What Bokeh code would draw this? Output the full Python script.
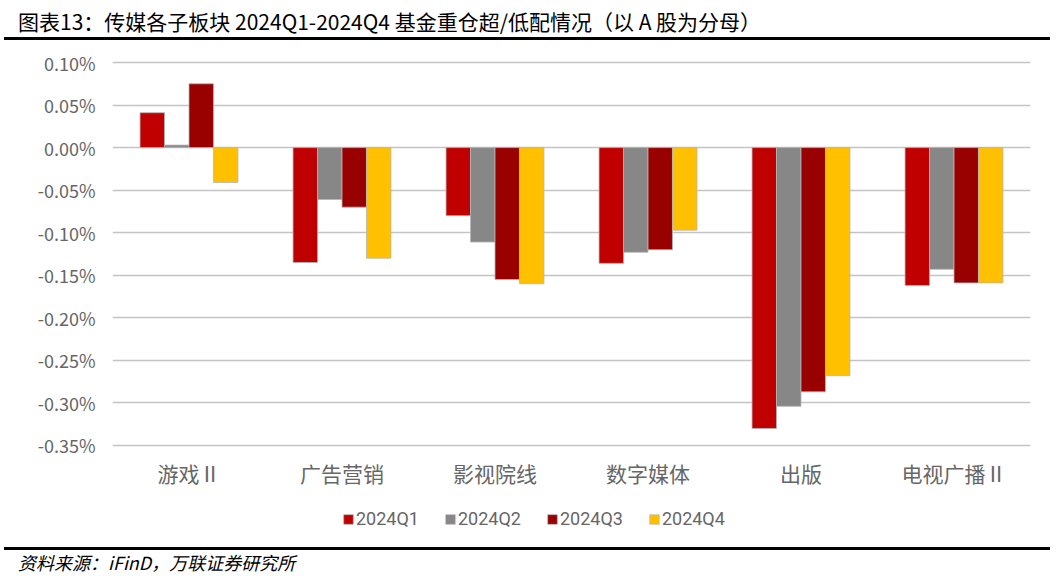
from bokeh.plotting import figure
from bokeh.models import (ColumnDataSource, FactorRange, Range1d, Legend, LegendItem,
                          FixedTicker, Div)
from bokeh.layouts import column
from bokeh.transform import dodge
from bokeh.embed import file_html
from bokeh.resources import INLINE

categories = ["游戏Ⅱ", "广告营销", "影视院线", "数字媒体", "出版", "电视广播Ⅱ"]
series_names = ["2024Q1", "2024Q2", "2024Q3", "2024Q4"]
q1 = [0.041, -0.135, -0.080, -0.136, -0.330, -0.162]
q2 = [0.003, -0.061, -0.111, -0.123, -0.304, -0.143]
q3 = [0.075, -0.070, -0.155, -0.120, -0.287, -0.159]
q4 = [-0.041, -0.130, -0.160, -0.097, -0.268, -0.159]
colors = ["#C00000", "#878787", "#990000", "#FFC000"]
y_ticks = [0.10, 0.05, 0.00, -0.05, -0.10, -0.15, -0.20, -0.25, -0.30, -0.35]
y_tick_labels = ["0.10%", "0.05%", "0.00%", "-0.05%", "-0.10%", "-0.15%",
                 "-0.20%", "-0.25%", "-0.30%", "-0.35%"]
title_text = "图表13：传媒各子板块 2024Q1-2024Q4 基金重仓超/低配情况（以 A 股为分母）"
source_text = "资料来源：iFinD，万联证券研究所"

FONT = "Noto Sans CJK SC"
GRAY = "#666666"

src = ColumnDataSource(dict(cat=categories, q1=q1, q2=q2, q3=q3, q4=q4))

# ---- main chart ----
p = figure(width=1056, height=452, output_backend="svg", toolbar_location=None,
           x_range=FactorRange(*categories), y_range=Range1d(-0.3606, 0.1094),
           min_border_left=112, min_border_right=26, min_border_top=14,
           min_border_bottom=38, outline_line_color=None, margin=(0, 0, 0, 0))
p.background_fill_color = "white"
p.border_fill_color = "white"

offsets = [-0.24, -0.08, 0.08, 0.24]
fields = ["q1", "q2", "q3", "q4"]
for f, off, c in zip(fields, offsets, colors):
    p.vbar(x=dodge("cat", off, range=p.x_range), top=f, bottom=0, width=0.16,
           source=src, fill_color=c, line_color="#b5b5b5", line_width=0.8)

p.yaxis.ticker = FixedTicker(ticks=y_ticks)
p.yaxis.major_label_overrides = {t: l for t, l in zip(y_ticks, y_tick_labels)}
p.yaxis.axis_line_color = None
p.yaxis.major_tick_line_color = None
p.yaxis.minor_tick_line_color = None
p.yaxis.major_tick_out = 0
p.yaxis.major_tick_in = 0
p.yaxis.major_label_standoff = 17
p.yaxis.major_label_text_font = FONT
p.yaxis.major_label_text_font_size = "18px"
p.yaxis.major_label_text_color = GRAY

p.xaxis.axis_line_color = None
p.xaxis.major_tick_line_color = None
p.xaxis.minor_tick_line_color = None
p.xaxis.major_tick_out = 0
p.xaxis.major_tick_in = 0
p.xaxis.major_label_standoff = 3
p.xaxis.major_label_text_font = FONT
p.xaxis.major_label_text_font_size = "21px"
p.xaxis.major_label_text_color = GRAY

p.xgrid.grid_line_color = None
p.ygrid.grid_line_color = "#c4c4c4"
p.ygrid.grid_line_width = 1.5

# ---- legend strip (frame aligned with main chart frame: left edge at 112px) ----
lg = figure(width=1056, height=55, output_backend="svg", toolbar_location=None,
            x_range=Range1d(0, 1), y_range=Range1d(0, 1),
            x_axis_location=None, y_axis_location=None,
            min_border=0, outline_line_color=None, margin=(0, 0, 0, 0))
lg.grid.grid_line_color = None
lg.background_fill_color = "white"
lg.border_fill_color = "white"
lg_renderers = []
for c in colors:
    lg_renderers.append(lg.vbar(x=[-10], top=[-10], width=0.1, fill_color=c,
                                line_color="#b5b5b5", line_width=0.6))
legend = Legend(items=[LegendItem(label=n, renderers=[r]) for n, r in zip(series_names, lg_renderers)],
                orientation="horizontal", location=(230, 18),
                label_text_font="Roboto", label_text_font_size="18px",
                label_text_color=GRAY, glyph_width=12, glyph_height=12,
                spacing=25, padding=0, margin=0, label_standoff=2,
                background_fill_alpha=0, border_line_color=None)
lg.add_layout(legend, "center")

# ---- title / source ----
title_html = (
    '<div style="position:relative;width:1056px;height:40px;background:white;">'
    '<div style="position:absolute;left:18px;top:7px;white-space:nowrap;'
    "font-family:'Noto Sans CJK SC';font-size:21px;line-height:28px;color:#000;\">"
    + title_text +
    '</div>'
    '<div style="position:absolute;left:4px;top:37px;width:1046px;height:3px;background:#000;"></div>'
    '</div>'
)
footer_html = (
    '<div style="position:relative;width:1056px;height:29px;background:white;">'
    '<div style="position:absolute;left:4px;top:0px;width:1046px;height:3px;background:#000;"></div>'
    '<div style="position:absolute;left:18px;top:3px;white-space:nowrap;'
    "font-family:'Noto Sans CJK SC';font-size:18px;font-style:italic;line-height:24px;color:#000;\">"
    + source_text +
    '</div>'
    '</div>'
)
title_div = Div(text=title_html, width=1056, height=40, margin=(0, 0, 0, 0))
footer_div = Div(text=footer_html, width=1056, height=29, margin=(0, 0, 0, 0))

layout = column(title_div, p, lg, footer_div, spacing=0, margin=(0, 0, 0, 0))

open("out.html", "w").write(file_html(layout, INLINE))
